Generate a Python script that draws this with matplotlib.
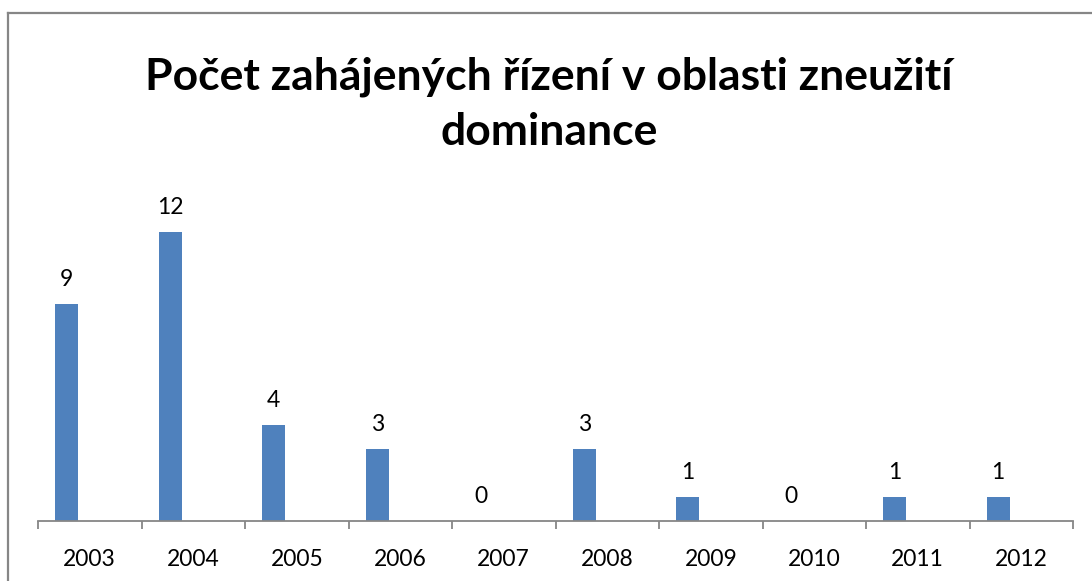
import matplotlib.pyplot as plt
from matplotlib.lines import Line2D

years = ['2003', '2004', '2005', '2006', '2007', '2008', '2009', '2010', '2011', '2012']
counts = [9, 12, 4, 3, 0, 3, 1, 0, 1, 1]

title = 'Počet zahájených řízení v oblasti zneužití\ndominance'

plt.rcParams['font.family'] = ['Lato', 'DejaVu Sans']

W, H = 1092, 581
fig = plt.figure(figsize=(W / 100, H / 100), dpi=100)
ax = fig.add_axes([38 / W, 1 - 521 / H, (1073 - 38) / W, (521 - 184) / H])

x = list(range(len(years)))
bar_x = [i - 0.223 for i in x]
bars = ax.bar(bar_x, counts, width=0.22, color='#4F81BD')

for bx, v in zip(bar_x, counts):
    ax.annotate(str(v), (bx, v), xytext=(0, 13), textcoords='offset points',
                ha='center', va='baseline', fontsize=16.5)

ax.set_xlim(-0.5, len(years) - 0.5)
ax.set_ylim(0, 14)

# boundary ticks + centered labels
ax.set_xticks([i - 0.5 for i in range(len(years) + 1)])
ax.set_xticklabels([])
ax.set_xticks(x, minor=True)
ax.set_xticklabels(years, minor=True, fontsize=16.5)
ax.tick_params(axis='x', which='major', length=6, width=1.3, color='#868686', direction='out')
ax.tick_params(axis='x', which='minor', length=0, pad=20)
ax.set_yticks([])

for s in ['top', 'right', 'left']:
    ax.spines[s].set_visible(False)
ax.spines['bottom'].set_color('#868686')
ax.spines['bottom'].set_linewidth(1.3)

fig.text(549 / W, 1 - 104 / H, title, ha='center', va='center',
         fontsize=32, fontweight='bold', linespacing=1.45)

# outer chart frame (top and left edges visible)
fig.add_artist(Line2D([8 / W, 1], [1 - 13 / H, 1 - 13 / H], color='#868686', lw=1.6))
fig.add_artist(Line2D([8 / W, 8 / W], [0, 1 - 13 / H], color='#868686', lw=1.6))

fig.savefig('out.png', dpi=100)
